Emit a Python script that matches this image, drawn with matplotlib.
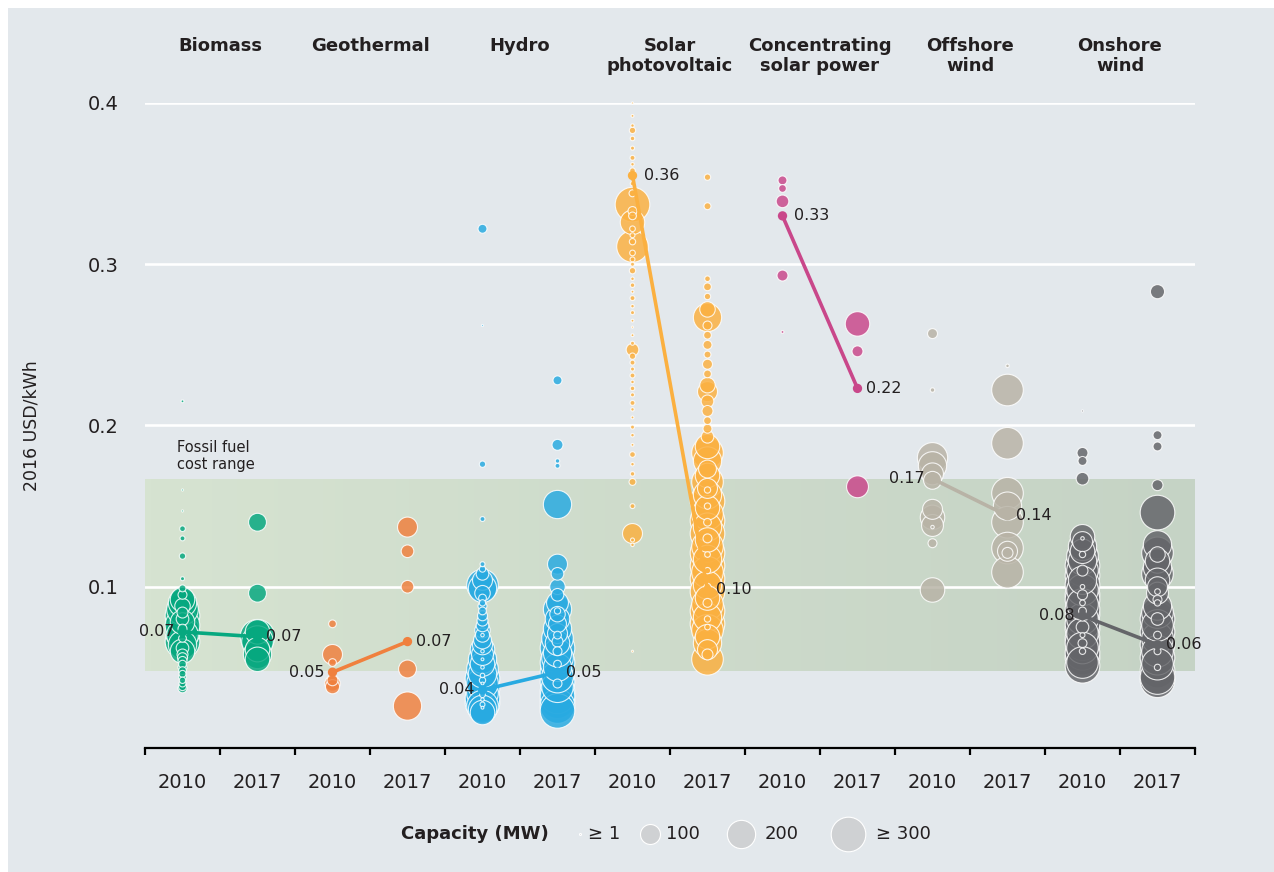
import numpy as np
import matplotlib
matplotlib.use("Agg")
import matplotlib.pyplot as plt
from matplotlib.patches import Rectangle
from matplotlib.colors import LinearSegmentedColormap
import matplotlib.transforms as mtransforms

plt.rcParams['font.family'] = ['DejaVu Sans']

# ---------------- data ----------------
categories = ["Biomass", "Geothermal", "Hydro", "Solar\nphotovoltaic",
              "Concentrating\nsolar power", "Offshore\nwind", "Onshore\nwind"]
years = ["2010", "2017"]
colors = ["#06a87f", "#f0803e", "#28aae1", "#fbb040", "#c9478a", "#b8b3a6", "#646569"]

# (LCOE in 2016 USD/kWh, capacity MW) per category and year
bio_2010_v = [0.215, 0.160, 0.147, 0.136, 0.130, 0.119, 0.105, 0.099, 0.095, 0.092, 0.090, 0.088, 0.086,
              0.084, 0.082, 0.080, 0.078, 0.076, 0.074, 0.072, 0.070, 0.068, 0.066, 0.064, 0.062, 0.060,
              0.058, 0.056, 0.054, 0.052, 0.050, 0.048, 0.046, 0.044, 0.042, 0.040, 0.038, 0.037]
bio_2010_c = [2, 1, 1, 8, 6, 10, 4, 12, 20, 150, 200, 60, 250, 30, 300, 40, 150, 300, 20, 300, 250, 15,
              300, 200, 40, 150, 30, 25, 20, 15, 20, 15, 12, 15, 10, 12, 15, 20]
bio_2017_v = [0.140, 0.096, 0.072, 0.069, 0.066, 0.061, 0.058, 0.055]
bio_2017_c = [80, 80, 150, 300, 250, 150, 200, 150]

geo_2010_v = [0.077, 0.058, 0.053, 0.042, 0.040, 0.038]
geo_2010_c = [15, 100, 15, 30, 60, 50]
geo_2017_v = [0.137, 0.122, 0.100, 0.049, 0.026]
geo_2017_c = [100, 40, 40, 80, 200]

hyd_2010_v = [0.322, 0.262, 0.176, 0.142, 0.114, 0.111, 0.108, 0.104, 0.101, 0.099, 0.096, 0.093, 0.090,
              0.088, 0.085, 0.082, 0.079, 0.076, 0.073, 0.070, 0.067, 0.064, 0.061, 0.058, 0.055, 0.052,
              0.049, 0.046, 0.043, 0.040, 0.037, 0.034, 0.031, 0.028, 0.026, 0.024, 0.022,
              0.070, 0.060, 0.055, 0.050, 0.045, 0.040, 0.035, 0.030, 0.025, 0.033, 0.027, 0.042]
hyd_2010_c = [20, 1, 10, 6, 6, 10, 40, 100, 250, 200, 60, 15, 10,
              20, 15, 25, 30, 40, 60, 50, 80, 100, 150, 120, 200, 150,
              250, 200, 300, 250, 300, 250, 300, 300, 250, 200, 150,
              3, 3, 2, 3, 5, 2, 4, 3, 2, 8, 6, 10]
hyd_2017_v = [0.228, 0.188, 0.178, 0.175, 0.151, 0.114, 0.108, 0.100, 0.095, 0.090, 0.086, 0.083, 0.080,
              0.077, 0.074, 0.071, 0.068, 0.065, 0.062, 0.059, 0.056, 0.053, 0.050, 0.047, 0.044, 0.041,
              0.038, 0.035, 0.032, 0.029, 0.026, 0.023, 0.060, 0.070, 0.052, 0.085, 0.040, 0.066]
hyd_2017_c = [20, 30, 5, 6, 200, 100, 40, 60, 40, 120, 200, 60, 150,
              80, 200, 100, 250, 150, 300, 200, 250, 300, 200, 300, 250, 300,
              250, 300, 300, 300, 300, 300, 20, 15, 15, 10, 20, 30]

pv_2010_v = [0.400, 0.392, 0.386, 0.383, 0.378, 0.372, 0.366, 0.362, 0.358, 0.350, 0.344, 0.337, 0.333,
             0.330, 0.326, 0.322, 0.318, 0.314, 0.311, 0.307, 0.303, 0.300, 0.296, 0.291, 0.287, 0.283,
             0.279, 0.274, 0.270, 0.265, 0.261, 0.256, 0.251, 0.247, 0.243, 0.239, 0.235, 0.231, 0.227,
             0.223, 0.219, 0.214, 0.210, 0.205, 0.199, 0.194, 0.188, 0.182, 0.176, 0.170, 0.165, 0.150,
             0.133, 0.129, 0.126, 0.060]
pv_2010_c = [1, 2, 3, 10, 5, 4, 6, 3, 8, 5, 12, 300, 20,
             15, 150, 8, 6, 10, 250, 8, 6, 4, 10, 3, 5, 2,
             6, 3, 4, 2, 1, 2, 4, 40, 10, 6, 4, 6, 3,
             5, 4, 6, 3, 2, 4, 3, 2, 8, 3, 5, 12, 6,
             100, 4, 3, 1]
pv_2017_v = [0.354, 0.336, 0.291, 0.286, 0.280, 0.272, 0.267, 0.262, 0.256, 0.250, 0.244, 0.238, 0.232,
             0.225, 0.221, 0.215, 0.209, 0.203, 0.198, 0.193, 0.187, 0.183, 0.178, 0.173, 0.169, 0.165,
             0.161, 0.157, 0.153, 0.149, 0.145, 0.141, 0.137, 0.133, 0.129, 0.125, 0.121, 0.117, 0.113,
             0.109, 0.105, 0.101, 0.097, 0.093, 0.089, 0.085, 0.081, 0.077, 0.073, 0.069, 0.065, 0.061,
             0.055, 0.160, 0.140, 0.120, 0.100, 0.080, 0.075, 0.090, 0.130, 0.110, 0.150, 0.058]
pv_2017_c = [10, 12, 8, 15, 10, 60, 200, 20, 15, 20, 12, 25, 15,
             60, 100, 40, 30, 15, 20, 40, 150, 250, 200, 80, 150, 250,
             100, 200, 300, 150, 250, 300, 200, 300, 150, 250, 300, 200, 300,
             250, 300, 200, 300, 150, 250, 300, 200, 300, 250, 150, 200, 100,
             250, 10, 15, 8, 12, 10, 8, 20, 20, 10, 10, 30]

csp_2010_v = [0.352, 0.347, 0.339, 0.293, 0.258]
csp_2010_c = [20, 15, 40, 30, 2]
csp_2017_v = [0.263, 0.246, 0.162]
csp_2017_c = [150, 30, 120]

off_2010_v = [0.257, 0.222, 0.180, 0.175, 0.170, 0.166, 0.148, 0.143, 0.138, 0.137, 0.127, 0.098]
off_2010_c = [25, 5, 230, 200, 120, 80, 100, 150, 120, 3, 20, 150]
off_2017_v = [0.237, 0.222, 0.189, 0.158, 0.150, 0.140, 0.124, 0.122, 0.121, 0.109]
off_2017_c = [3, 250, 250, 250, 200, 250, 250, 100, 30, 250]

on_2010_v = [0.209, 0.183, 0.178, 0.167, 0.131, 0.128, 0.125, 0.122, 0.119, 0.116, 0.113, 0.110, 0.107,
             0.104, 0.101, 0.098, 0.095, 0.092, 0.089, 0.086, 0.083, 0.080, 0.077, 0.074, 0.071, 0.068,
             0.065, 0.062, 0.059, 0.056, 0.053, 0.051, 0.130, 0.120, 0.100, 0.090, 0.080, 0.070, 0.060,
             0.065, 0.085, 0.110, 0.075, 0.095]
on_2010_c = [1, 30, 20, 40, 150, 100, 200, 150, 250, 200, 300, 250, 300,
             200, 300, 250, 300, 300, 250, 300, 300, 250, 300, 300, 250, 300,
             300, 250, 300, 300, 250, 300, 3, 10, 5, 8, 4, 6, 10,
             20, 15, 30, 40, 25]
on_2017_v = [0.283, 0.194, 0.187, 0.163, 0.146, 0.126, 0.121, 0.116, 0.112, 0.108, 0.104, 0.100, 0.096,
             0.092, 0.088, 0.084, 0.080, 0.076, 0.072, 0.068, 0.064, 0.060, 0.056, 0.052, 0.048, 0.044,
             0.042, 0.097, 0.090, 0.070, 0.060, 0.050, 0.120, 0.080]
on_2017_c = [50, 20, 20, 30, 300, 200, 250, 150, 200, 250, 150, 100, 120,
             20, 200, 250, 300, 250, 300, 250, 300, 250, 300, 250, 300, 300,
             300, 8, 10, 15, 12, 10, 60, 40]

series = [
    [(bio_2010_v, bio_2010_c), (bio_2017_v, bio_2017_c)],
    [(geo_2010_v, geo_2010_c), (geo_2017_v, geo_2017_c)],
    [(hyd_2010_v, hyd_2010_c), (hyd_2017_v, hyd_2017_c)],
    [(pv_2010_v, pv_2010_c), (pv_2017_v, pv_2017_c)],
    [(csp_2010_v, csp_2010_c), (csp_2017_v, csp_2017_c)],
    [(off_2010_v, off_2010_c), (off_2017_v, off_2017_c)],
    [(on_2010_v, on_2010_c), (on_2017_v, on_2017_c)],
]

# capacity-weighted averages (2010, 2017) and their labels
avg_2010 = [0.072, 0.047, 0.036, 0.355, 0.330, 0.167, 0.082]
avg_2017 = [0.069, 0.066, 0.047, 0.098, 0.223, 0.144, 0.064]
avg_2010_lbl = ["0.07", "0.05", "0.04", "0.36", "0.33", "0.17", "0.08"]
avg_2017_lbl = ["0.07", "0.07", "0.05", "0.10", "0.22", "0.14", "0.06"]
label_2010_right = [False, False, False, True, True, False, False]

fossil_low, fossil_high = 0.048, 0.167
yticks = [0.1, 0.2, 0.3, 0.4]
legend_caps = [1, 100, 200, 300]
legend_lbls = ["\u2265 1", "100", "200", "\u2265 300"]

# ---------------- figure ----------------
W, H = 1274, 872
fig = plt.figure(figsize=(W / 100, H / 100), dpi=100)
fig.patch.set_facecolor("white")
bg = "#e3e8ec"
fig.patches.append(Rectangle((8 / W, 0), 1 - 8 / W, 1 - 8 / H, transform=fig.transFigure,
                             facecolor=bg, edgecolor="none", zorder=-10))

ax = fig.add_axes([145 / W, 1 - 748 / H, 1050 / W, 645 / H])
ax.set_facecolor("none")
ax.set_xlim(-0.5, 13.5)
ax.set_ylim(0, 0.4)

def size_of(cap):
    cap = np.clip(np.asarray(cap, float), 1, 300)
    return 2.07 * cap

txt_col = "#231f20"

# fossil band gradient
cmap = LinearSegmentedColormap.from_list("fossil", ["#d6e3d1", "#c5d3c5"])
grad = np.linspace(0, 1, 256).reshape(1, -1)
ax.imshow(grad, extent=[-0.5, 13.5, fossil_low, fossil_high], aspect="auto", cmap=cmap,
          zorder=0.5, interpolation="bicubic")

for yv in yticks:
    ax.axhline(yv, color="white", lw=1.9, zorder=1)

for i, cat in enumerate(categories):
    for j in range(2):
        x = 2 * i + j
        v, c = series[i][j]
        v = np.asarray(v); c = np.asarray(c)
        order = np.argsort(-c)
        ax.scatter(np.full(len(v), x)[order], v[order], s=size_of(c[order]), color=colors[i],
                   alpha=0.84, edgecolors="white", linewidths=0.8, zorder=3, clip_on=False)
    x0, x1 = 2 * i, 2 * i + 1
    ax.plot([x0, x1], [avg_2010[i], avg_2017[i]], color=colors[i], lw=2.6, zorder=4,
            solid_capstyle="round")
    ax.scatter([x0, x1], [avg_2010[i], avg_2017[i]], s=45, color=colors[i], zorder=5,
               edgecolors="none")
    if label_2010_right[i]:
        ax.annotate(avg_2010_lbl[i], (x0, avg_2010[i]), xytext=(8, 0), textcoords="offset points",
                    ha="left", va="center", fontsize=11.5, color=txt_col, zorder=6)
    else:
        ax.annotate(avg_2010_lbl[i], (x0, avg_2010[i]), xytext=(-6, 0), textcoords="offset points",
                    ha="right", va="center", fontsize=11.5, color=txt_col, zorder=6)
    ax.annotate(avg_2017_lbl[i], (x1, avg_2017[i]), xytext=(6, 0), textcoords="offset points",
                ha="left", va="center", fontsize=11.5, color=txt_col, zorder=6)

# category headers
hdr_tr = mtransforms.blended_transform_factory(ax.transData, fig.transFigure)
for i, cat in enumerate(categories):
    ax.text(2 * i + 0.5, 1 - 37 / H, cat, transform=hdr_tr, ha="center", va="top",
            fontsize=13, fontweight="bold", color=txt_col, linespacing=1.15)

# fossil label
ax.text(-0.07, 0.191, "Fossil fuel\ncost range", ha="left", va="top", fontsize=10.5,
        color=txt_col, linespacing=1.2)

# axes styling
for s in ["top", "right", "left"]:
    ax.spines[s].set_visible(False)
ax.spines["bottom"].set_color("black")
ax.spines["bottom"].set_linewidth(1.6)
ax.set_xticks(range(14))
ax.set_xticklabels(years * 7)
ax.set_xticks(np.arange(-0.5, 14, 1), minor=True)
ax.tick_params(axis="x", which="major", length=0, pad=18, labelsize=14, labelcolor=txt_col)
ax.tick_params(axis="x", which="minor", length=5, width=1.6, color="black", direction="out")
ax.set_yticks(yticks)
ax.set_yticklabels([f"{t:.1f}" for t in yticks])
ax.tick_params(axis="y", length=0, pad=19, labelsize=14, labelcolor=txt_col)
ax.set_ylabel("2016 USD/kWh", fontsize=12.5, color=txt_col)
ax.yaxis.set_label_coords(-0.1, 0.5)

# legend (overlay in pixel space)
ov = fig.add_axes([0, 0, 1, 1], zorder=10)
ov.set_xlim(0, W); ov.set_ylim(H, 0); ov.axis("off")
ov.text(401, 834, "Capacity (MW)", ha="left", va="center", fontsize=13, fontweight="bold",
        color=txt_col)
leg_x = [580, 650, 741, 848]
lbl_x = [588, 666, 765, 876]
for k in range(4):
    ov.scatter([leg_x[k]], [834], s=size_of([legend_caps[k]]), color="#cfd1d3",
               edgecolors="white", linewidths=0.8)
    ov.text(lbl_x[k], 834, legend_lbls[k], ha="left", va="center", fontsize=13, color=txt_col)

fig.savefig("out.png", dpi=100)
